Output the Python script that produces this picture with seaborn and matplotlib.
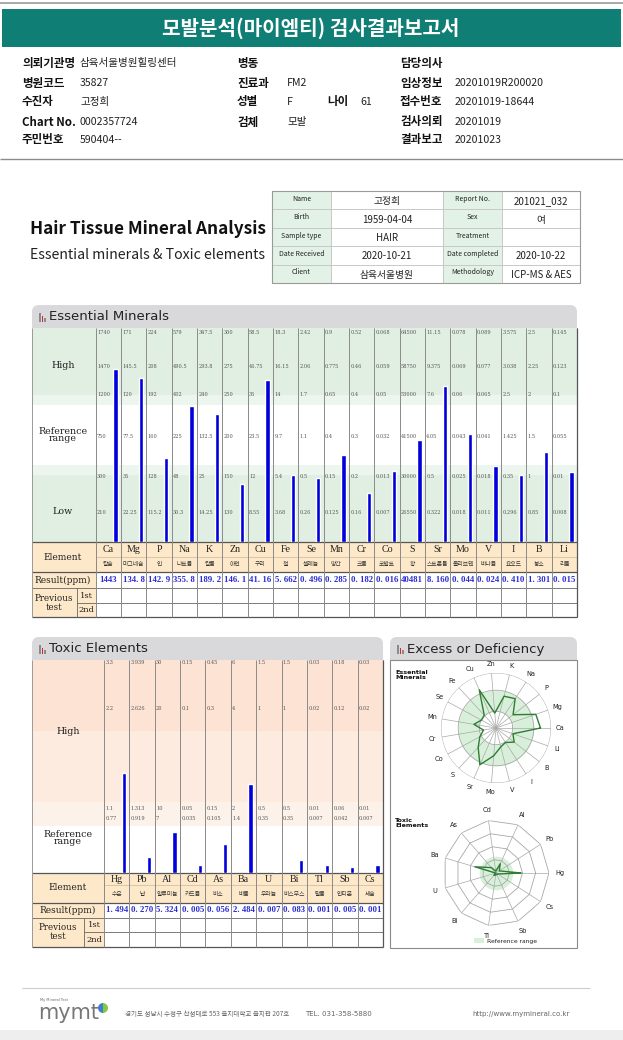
import numpy as np
import pandas as pd
import matplotlib
matplotlib.use("Agg")
import matplotlib.pyplot as plt
import seaborn as sns
from matplotlib.patches import Rectangle, FancyBboxPatch, Wedge
import matplotlib.font_manager as fm

# ---------------- data ----------------
TITLE = "모발분석(마이엠티) 검사결과보고서"
INFO_COL1 = [("의뢰기관명", "삼육서울병원힐링센터"), ("병원코드", "35827"), ("수진자", "고정희"),
             ("Chart No.", "0002357724"), ("주민번호", "590404--")]
INFO_COL2 = [("병동", ""), ("진료과", "FM2"), ("성별", "F"), ("검체", "모발"), ("", "")]
INFO_COL3 = [("담당의사", ""), ("임상정보", "20201019R200020"), ("접수번호", "20201019-18644"),
             ("검사의뢰", "20201019"), ("결과보고", "20201023")]
AGE_LABEL, AGE_VALUE = "나이", "61"

REPORT_TABLE = [["Name", "고정희", "Report No.", "201021_032"],
                ["Birth", "1959-04-04", "Sex", "여"],
                ["Sample type", "HAIR", "Treatment", ""],
                ["Date Received", "2020-10-21", "Date completed", "2020-10-22"],
                ["Client", "삼육서울병원", "Methodology", "ICP-MS & AES"]]

ESS_SYMBOLS = ["Ca", "Mg", "P", "Na", "K", "Zn", "Cu", "Fe", "Se", "Mn", "Cr", "Co", "S", "Sr",
               "Mo", "V", "I", "B", "Li"]
ESS_NAMES = ["칼슘", "마그네슘", "인", "나트륨", "칼륨", "아연", "구리", "철", "셀레늄", "망간", "크롬",
             "코발트", "황", "스트론튬", "몰리브덴", "바나듐", "요오드", "붕소", "리튬"]
ESS_RESULTS = [1443, 134.8, 142.9, 355.8, 189.2, 146.1, 41.16, 5.662, 0.496, 0.285, 0.182,
               0.016, 40481, 8.160, 0.044, 0.024, 0.410, 1.301, 0.015]
# level values, bottom -> top
ESS_LEVELS = [
    [210, 300, 750, 1200, 1470, 1740],
    [22.25, 35, 77.5, 120, 145.5, 171],
    [115.2, 128, 160, 192, 208, 224],
    [30.3, 48, 225, 402, 490.5, 579],
    [14.25, 25, 132.5, 240, 293.8, 347.5],
    [130, 150, 200, 250, 275, 300],
    [8.55, 12, 23.5, 35, 46.75, 58.5],
    [3.68, 5.4, 9.7, 14, 16.15, 18.3],
    [0.26, 0.5, 1.1, 1.7, 2.06, 2.42],
    [0.125, 0.15, 0.4, 0.65, 0.775, 0.9],
    [0.16, 0.2, 0.3, 0.4, 0.46, 0.52],
    [0.007, 0.013, 0.032, 0.05, 0.059, 0.068],
    [26550, 30000, 41500, 53000, 58750, 64500],
    [0.322, 0.5, 4.05, 7.6, 9.375, 11.15],
    [0.018, 0.025, 0.043, 0.06, 0.069, 0.078],
    [0.011, 0.018, 0.041, 0.065, 0.077, 0.089],
    [0.296, 0.35, 1.425, 2.5, 3.038, 3.575],
    [0.85, 1, 1.5, 2, 2.25, 2.5],
    [0.008, 0.01, 0.055, 0.1, 0.123, 0.145],
]

TOX_SYMBOLS = ["Hg", "Pb", "Al", "Cd", "As", "Ba", "U", "Bi", "Tl", "Sb", "Cs"]
TOX_NAMES = ["수은", "납", "알루미늄", "카드뮴", "비소", "바륨", "우라늄", "비스무스", "탈륨", "안티몬", "세슘"]
TOX_RESULTS = [1.494, 0.270, 5.324, 0.005, 0.056, 2.484, 0.007, 0.083, 0.001, 0.005, 0.001]
TOX_LEVELS = [
    [0.77, 1.1, 2.2, 3.3],
    [0.919, 1.313, 2.626, 3.939],
    [7, 10, 20, 30],
    [0.035, 0.05, 0.1, 0.15],
    [0.105, 0.15, 0.3, 0.45],
    [1.4, 2, 4, 6],
    [0.35, 0.5, 1, 1.5],
    [0.35, 0.5, 1, 1.5],
    [0.007, 0.01, 0.02, 0.03],
    [0.042, 0.06, 0.12, 0.18],
    [0.007, 0.01, 0.02, 0.03],
]

FOOTER_ADDR = "경기도 성남시 수정구 산성대로 553 을지대학교 을지관 207호"
FOOTER_TEL = "TEL. 031-358-5880"
FOOTER_URL = "http://www.mymineral.co.kr"

# ---------------- style ----------------
sns.set_theme(style="white")
KR = ["Noto Sans CJK KR", "DejaVu Sans"]
plt.rcParams["font.family"] = KR
SERIF = ["DejaVu Serif", "Noto Sans CJK KR"]
NUMF = ["Liberation Serif", "DejaVu Serif"]

W, H = 623, 1040
fig = plt.figure(figsize=(W / 100, H / 100), dpi=100)
bg = fig.add_axes([0, 0, 1, 1])
bg.set_xlim(0, W)
bg.set_ylim(H, 0)
bg.axis("off")


def frect(x0, y0, x1, y1):
    return [x0 / W, 1 - y1 / H, (x1 - x0) / W, (y1 - y0) / H]


def box(x0, y0, x1, y1, fc, ec="none", lw=0, z=1):
    bg.add_patch(Rectangle((x0, y0), x1 - x0, y1 - y0, facecolor=fc, edgecolor=ec, lw=lw, zorder=z))


def hline(y, x0, x1, c="#777777", lw=0.7, z=3):
    bg.plot([x0, x1], [y, y], color=c, lw=lw, zorder=z, solid_capstyle="butt")


def vline(x, y0, y1, c="#777777", lw=0.7, z=3):
    bg.plot([x, x], [y0, y1], color=c, lw=lw, zorder=z, solid_capstyle="butt")


def fit_width(t, width_px):
    r = fig.canvas.get_renderer()
    bb = t.get_window_extent(r)
    t.set_fontsize(t.get_fontsize() * width_px / bb.width)


def fmt_result(v):
    if v >= 1000:
        s = f"{v:.0f}"
    elif v >= 1:
        s = f"{v:.{4 - len(str(int(v)))}f}"
    else:
        s = f"{v:.3f}"
    return s.replace(".", ". ")


# ---------------- header ----------------
hline(3, 0, W, c="#9a9a9a", lw=1.2)
box(2, 9, 621, 47, "#0f7e75")
bg.text(311, 28, TITLE, color="white", fontsize=14.5, fontweight="bold", ha="center", va="center")

row_y = [63, 83, 102, 122, 140]
LABK = dict(fontsize=8.3, fontweight="bold", va="center", color="#111")
VALK = dict(fontsize=7.6, va="center", color="#222")
for i, (lab, val) in enumerate(INFO_COL1):
    bg.text(22, row_y[i], lab, **LABK)
    bg.text(80, row_y[i], val, **VALK)
for i, (lab, val) in enumerate(INFO_COL2):
    bg.text(237, row_y[i], lab, **LABK)
    bg.text(287, row_y[i], val, **VALK)
bg.text(327, row_y[2], AGE_LABEL, **LABK)
bg.text(360, row_y[2], AGE_VALUE, **VALK)
for i, (lab, val) in enumerate(INFO_COL3):
    bg.text(400, row_y[i], lab, **LABK)
    bg.text(455, row_y[i], val, **VALK)
hline(159, 0, W, c="#8c8c8c", lw=1.0)

# ---------------- report title + table ----------------
t1 = bg.text(30, 229, "Hair Tissue Mineral Analysis", family=KR, fontweight="heavy",
             fontsize=18, va="center", color="#111")
fit_width(t1, 236)
t2 = bg.text(30, 255, "Essential minerals & Toxic elements", family=KR,
             fontsize=11, va="center", color="#222")
fit_width(t2, 235)
tx = [272, 331, 443, 502, 580]
ty0, ty1 = 191, 283
rh = (ty1 - ty0) / 5
for r, row in enumerate(REPORT_TABLE):
    y0 = ty0 + r * rh
    for c in range(4):
        lab = c % 2 == 0
        fc = "#e3f2e6" if lab else "white"
        box(tx[c], y0, tx[c + 1], y0 + rh, fc, ec="#c4c4c4", lw=0.6, z=2)
        bg.text((tx[c] + tx[c + 1]) / 2, y0 + rh / 2 + (-1.5 if lab else 1), row[c],
                fontsize=5.0 if lab else 7, ha="center", va="center", color="#222", zorder=4)
box(tx[0], ty0, tx[-1], ty1, "none", ec="#9a9a9a", lw=0.8, z=3)


# ---------------- helpers for panels ----------------
def panel_header(x0, x1, y0, y1, title):
    bg.add_patch(FancyBboxPatch((x0, y0), x1 - x0, (y1 - y0) + 8, boxstyle="round,pad=0,rounding_size=7",
                                facecolor="#d9d9dc", edgecolor="none", zorder=1))
    ix = x0 + 7
    for k, (hh, cc) in enumerate([(9, "#8a8a8a"), (6, "#d9262b"), (4, "#8a8a8a")]):
        box(ix + k * 2.6, y1 - 5 - hh, ix + k * 2.6 + 1.8, y1 - 5, cc, z=3)
    bg.text(x0 + 17, (y0 + y1) / 2 + 1, title, family=["DejaVu Sans"], fontsize=9.5, va="center",
            color="#222", zorder=4)


GREEN = "#e1efe3"
GREEN2 = "#edf6ee"
PEACH = "#fde9c9"
BLUE = "#0000dc"
RES_BLUE = "#2b2bd4"

# ================= Essential Minerals =================
EX0, EX1 = 32, 577
ECOL0 = 95.7
NE = len(ESS_SYMBOLS)
ECW = (EX1 - ECOL0) / NE
ETOP, EBOT = 328, 542
ESS_POS = [0, 30, 65, 106, 147, 176, 210]  # level positions (px above chart bottom)
panel_header(EX0, EX1, 305, 327, "Essential Minerals")
box(EX0, ETOP, EX1, 395, GREEN)
box(EX0, 395, EX1, 405, GREEN2)
box(EX0, 405, EX1, 465, "white")
box(EX0, 465, EX1, 475, GREEN2)
box(EX0, 475, EX1, EBOT, GREEN)
for txt, yy in [("High", 365), ("Reference\nrange", 435), ("Low", 512)]:
    bg.text(63, yy, txt, family=SERIF, fontsize=6.8, ha="center", va="center", color="#222",
            linespacing=0.85, zorder=4)

ET = [542, 557, 572, 588, 603, 617]
box(EX0, ET[0], EX1, ET[2], PEACH)
box(EX0, ET[2], ECOL0, ET[5], PEACH)
box(ECOL0, ET[2], EX1, ET[5], "white")
for yy in [ET[0], ET[2], ET[5]]:
    hline(yy, EX0, EX1, c="#555555", lw=0.9)
hline(ET[1], ECOL0, EX1, c="#c9b79a", lw=0.5)
hline(ET[3], EX0, EX1, c="#666666", lw=0.6)
hline(ET[4], 77, EX1, c="#666666", lw=0.6)
vline(77, ET[3], ET[5], c="#666666", lw=0.6)
for i in range(NE + 1):
    vline(ECOL0 + i * ECW, ETOP, ET[5], c="#8a8a8a", lw=0.7)
vline(EX0, ETOP, ET[5], c="#9a9a9a", lw=0.7)
vline(EX1, ETOP, ET[5], c="#555555", lw=0.9)
bg.text(63, 557, "Element", family=SERIF, fontsize=6.5, ha="center", va="center", color="#222", zorder=4)
bg.text(63, 580, "Result(ppm)", family=SERIF, fontsize=6.5, ha="center", va="center", color="#222", zorder=4)
bg.text(54, 603, "Previous\ntest", family=SERIF, fontsize=6.3, ha="center", va="center", color="#222",
        linespacing=1.1, zorder=4)
bg.text(86, 595.5, "1st", family=SERIF, fontsize=6, ha="center", va="center", color="#222", zorder=4)
bg.text(86, 610, "2nd", family=SERIF, fontsize=6, ha="center", va="center", color="#222", zorder=4)
for i in range(NE):
    cx = ECOL0 + (i + 0.5) * ECW
    bg.text(cx, 549.5, ESS_SYMBOLS[i], family=NUMF, fontsize=7.2, ha="center", va="center", color="#222", zorder=4)
    bg.text(cx, 564.5, ESS_NAMES[i], fontsize=4.2, ha="center", va="center", color="#333", zorder=4)
    bg.text(cx, 580, fmt_result(ESS_RESULTS[i]), family=NUMF, fontsize=6.3, fontweight="bold",
            ha="center", va="center", color=RES_BLUE, zorder=4)

# bars (seaborn) on their own axes: column i spans [i-0.78, i+0.22]
BAR_OFF = 0.78
ax_e = fig.add_axes(frect(ECOL0, ETOP, EX1, EBOT))
ax_e.patch.set_alpha(0)
ess_pos = [float(np.interp(v, [0] + lv, ESS_POS)) for v, lv in zip(ESS_RESULTS, ESS_LEVELS)]
df_e = pd.DataFrame({"element": ESS_SYMBOLS, "pos": ess_pos})
sns.barplot(data=df_e, x="element", y="pos", order=ESS_SYMBOLS, color=BLUE, saturation=1,
            width=0.17, ax=ax_e, zorder=5)
ax_e.set_xlim(-BAR_OFF, NE - BAR_OFF)
ax_e.set_ylim(0, EBOT - ETOP)
ax_e.axis("off")
for i, lv in enumerate(ESS_LEVELS):
    for k, v in enumerate(lv):
        ax_e.text(i - BAR_OFF + 0.05, ESS_POS[k + 1], f"{v:g}", fontsize=3.6, family=SERIF,
                  ha="left", va="center", color="#555")

# ================= Toxic Elements =================
TX0, TX1 = 32, 383
TCOL0 = 104
NT = len(TOX_SYMBOLS)
TCW = (TX1 - TCOL0) / NT
TTOP, TBOT = 660, 873
TOX_POS = [0, 54, 65, 164, 211]
panel_header(TX0, TX1, 637, 659, "Toxic Elements")
box(TX0, TTOP, TX1, 731, "#fde3d4")
box(TX0, 731, TX1, 802, "#fdebe0")
box(TX0, 802, TX1, 826, "#fdf2ea")
box(TX0, 826, TX1, TBOT, "white")
bg.text(68, 731, "High", family=SERIF, fontsize=6.8, ha="center", va="center", color="#222", zorder=4)
bg.text(68, 838, "Reference\nrange", family=SERIF, fontsize=6.8, ha="center", va="center", color="#222",
        linespacing=0.85, zorder=4)
TT = [873, 885, 903, 918, 932, 947]
box(TX0, TT[0], TX1, TT[2], PEACH)
box(TX0, TT[2], TCOL0, TT[5], PEACH)
box(TCOL0, TT[2], TX1, TT[5], "white")
for yy in [TT[0], TT[2], TT[5]]:
    hline(yy, TX0, TX1, c="#555555", lw=0.9)
hline(TT[1], TCOL0, TX1, c="#c9b79a", lw=0.5)
hline(TT[3], TX0, TX1, c="#666666", lw=0.6)
hline(TT[4], 84, TX1, c="#666666", lw=0.6)
vline(84, TT[3], TT[5], c="#666666", lw=0.6)
for i in range(NT + 1):
    vline(TCOL0 + i * TCW, TTOP, TT[5], c="#8a8a8a", lw=0.7)
vline(TX0, TTOP, TT[5], c="#9a9a9a", lw=0.7)
vline(TX1, TTOP, TT[5], c="#555555", lw=0.9)
bg.text(68, 888, "Element", family=SERIF, fontsize=6.5, ha="center", va="center", color="#222", zorder=4)
bg.text(68, 910.5, "Result(ppm)", family=SERIF, fontsize=6.5, ha="center", va="center", color="#222", zorder=4)
bg.text(58, 932, "Previous\ntest", family=SERIF, fontsize=6.3, ha="center", va="center", color="#222",
        linespacing=1.1, zorder=4)
bg.text(94, 925, "1st", family=SERIF, fontsize=6, ha="center", va="center", color="#222", zorder=4)
bg.text(94, 939.5, "2nd", family=SERIF, fontsize=6, ha="center", va="center", color="#222", zorder=4)
for i in range(NT):
    cx = TCOL0 + (i + 0.5) * TCW
    bg.text(cx, 879, TOX_SYMBOLS[i], family=NUMF, fontsize=7.2, ha="center", va="center", color="#222", zorder=4)
    bg.text(cx, 894, TOX_NAMES[i], fontsize=4.2, ha="center", va="center", color="#333", zorder=4)
    bg.text(cx, 910.5, fmt_result(TOX_RESULTS[i]), family=NUMF, fontsize=6.3, fontweight="bold",
            ha="center", va="center", color=RES_BLUE, zorder=4)

ax_t = fig.add_axes(frect(TCOL0, TTOP, TX1, TBOT))
ax_t.patch.set_alpha(0)
tox_pos = [float(np.interp(v, [0] + lv, TOX_POS)) for v, lv in zip(TOX_RESULTS, TOX_LEVELS)]
df_t = pd.DataFrame({"element": TOX_SYMBOLS, "pos": tox_pos})
sns.barplot(data=df_t, x="element", y="pos", order=TOX_SYMBOLS, color=BLUE, saturation=1,
            width=0.17, ax=ax_t, zorder=5)
ax_t.set_xlim(-BAR_OFF, NT - BAR_OFF)
ax_t.set_ylim(0, TBOT - TTOP)
ax_t.axis("off")
for i, lv in enumerate(TOX_LEVELS):
    for k, v in enumerate(lv):
        ax_t.text(i - BAR_OFF + 0.05, TOX_POS[k + 1], f"{v:g}", fontsize=3.6, family=SERIF,
                  ha="left", va="center", color="#555")

# ================= Excess or Deficiency (radars) =================
RX0, RX1 = 390, 577
panel_header(RX0, RX1, 637, 659, "Excess or Deficiency")
box(RX0, 660, RX1, 948, "white", ec="#8a8a8a", lw=0.8, z=2)
bg.text(395, 675, "Essential\nMinerals", family=["DejaVu Sans"], fontsize=4.6, fontweight="bold",
        va="center", color="#111", linespacing=1.0, zorder=4)
bg.text(395, 823, "Toxic\nElements", family=["DejaVu Sans"], fontsize=4.6, fontweight="bold",
        va="center", color="#111", linespacing=1.0, zorder=4)


def radar(cx, cy, R, symbols, pos, rmax, ref_lo, ref_hi, rings, polygon, lab_fac):
    ax = fig.add_axes(frect(cx - R, cy - R, cx + R, cy + R), projection="polar")
    ax.patch.set_alpha(0)
    n = len(symbols)
    th = np.arange(n) * 2 * np.pi / n
    ax.set_ylim(0, rmax)
    ax.grid(False)
    ax.set_xticks([])
    ax.set_yticks([])
    ax.spines["polar"].set_visible(False)
    tf = np.linspace(0, 2 * np.pi, 200)
    ax.fill_between(tf, ref_lo, ref_hi, color="#d8f0da", lw=0, zorder=1)
    tt = np.append(th, th[0]) if polygon else tf
    for rr in rings:
        ax.plot(tt, [rr] * len(tt), color="#a8a8a8", lw=0.6, zorder=2)
    for t in th:
        ax.plot([t, t], [0, rmax], color="#a8a8a8", lw=0.5, zorder=2)
    vals = np.append(pos, pos[0])
    ax.plot(np.append(th, th[0]), vals, color="#2e7d32", lw=1.0, zorder=4)
    for t, s in zip(th, symbols):
        ax.text(t, rmax * lab_fac, s, fontsize=4.8, family=["DejaVu Sans"], ha="center", va="center", color="#222")
    return ax


radar(496, 728, 55, ESS_SYMBOLS, ess_pos, 214, 65, 147, [65, 147, 214], polygon=False, lab_fac=1.17)
radar(496, 873, 53, TOX_SYMBOLS, tox_pos, 214, 0, 68, [54, 107, 160, 214], polygon=True, lab_fac=1.2)
box(474, 938, 484, 943, "#d8f0da", z=4)
bg.text(487, 941, "Reference range", family=["DejaVu Sans"], fontsize=4.3, va="center", color="#222", zorder=4)

# ================= footer =================
hline(988, 22, 590, c="#cccccc", lw=0.8)
bg.text(40, 1001, "My Mineral Test", family=["DejaVu Sans"], fontsize=2.6, color="#666")
bg.text(38, 1013, "mymt", family=["DejaVu Sans"], fontsize=15, color="#777", va="center")
bg.add_patch(Wedge((103, 1008), 5, 90, 270, facecolor="#3a7fd0", edgecolor="none"))
bg.add_patch(Wedge((103, 1008), 5, -90, 90, facecolor="#8cc63f", edgecolor="none"))
bg.text(125, 1014, FOOTER_ADDR, fontsize=4.7, color="#666", va="center")
bg.text(305, 1014, FOOTER_TEL, family=["DejaVu Sans"], fontsize=5.0, color="#666", va="center")
bg.text(472, 1014, FOOTER_URL, family=["DejaVu Sans"], fontsize=5.0, color="#666", va="center")
box(0, 1030, W, H, "#eeeeee")

fig.savefig("out.png", dpi=100)
